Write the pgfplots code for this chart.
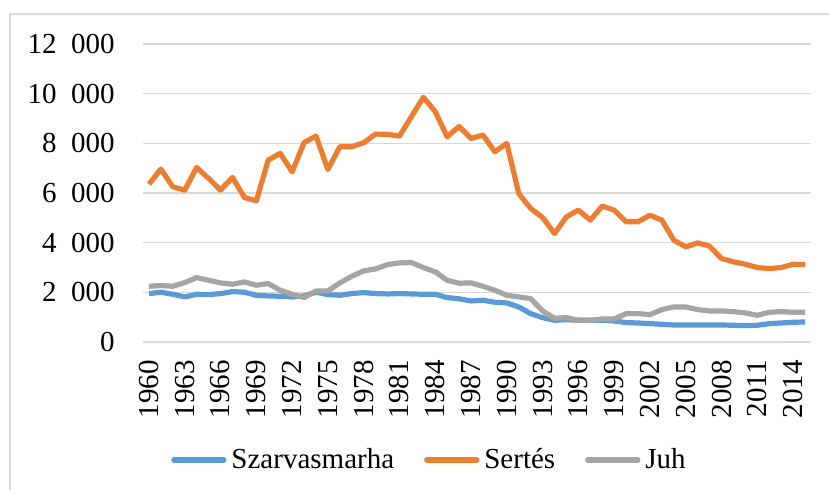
\documentclass[border=0pt]{standalone}
\usepackage{fontspec}
\setmainfont{Liberation Serif}
\usepackage{pgfplots}
\usepackage{pgfplotstable}
\pgfplotsset{compat=1.18}
\definecolor{cblue}{HTML}{5B9BD5}
\definecolor{corange}{HTML}{ED7D31}
\definecolor{cgray}{HTML}{A5A5A5}
\definecolor{gridgray}{HTML}{D9D9D9}
\pgfplotstableread{
year blue orange gray
1960 1949 6357 2244
1961 2003 6962 2271
1962 1922 6250 2244
1963 1814 6115 2392
1964 1922 7029 2594
1965 1908 6586 2486
1966 1949 6115 2379
1967 2029 6626 2325
1968 2003 5820 2419
1969 1882 5685 2285
1970 1855 7325 2352
1971 1841 7594 2083
1972 1814 6854 1922
1973 1855 8024 1788
1974 2003 8292 2056
1975 1908 6948 2056
1976 1882 7862 2379
1977 1949 7862 2648
1978 1989 8024 2863
1979 1949 8373 2943
1980 1935 8360 3118
1981 1949 8292 3185
1982 1935 9072 3199
1983 1922 9852 2997
1984 1922 9274 2822
1985 1788 8265 2486
1986 1740 8680 2365
1987 1653 8198 2379
1988 1680 8333 2244
1989 1599 7661 2083
1990 1572 7997 1882
1991 1411 5981 1814
1992 1142 5376 1747
1993 981 5013 1250
1994 874 4368 954
1995 900 5040 981
1996 874 5309 874
1997 874 4906 874
1998 874 5470 927
1999 847 5309 927
2000 780 4838 1142
2001 766 4838 1142
2002 739 5107 1102
2003 712 4906 1304
2004 685 4099 1411
2005 685 3830 1411
2006 685 3992 1304
2007 685 3857 1250
2008 685 3360 1250
2009 672 3226 1223
2010 659 3131 1169
2011 672 2997 1075
2012 739 2957 1196
2013 766 2997 1223
2014 793 3131 1196
2015 806 3118 1196
}\datatable
\begin{document}
\begin{tikzpicture}
\useasboundingbox (0,0) rectangle (414.5pt,245pt);
\draw[color=gridgray, line width=0.75pt] (5pt,0pt) -- (5pt,238pt) -- (414.5pt,238pt);
\begin{axis}[
  at={(71.5pt,74pt)}, anchor=south west,
  scale only axis, width=334pt, height=149pt,
  xmin=1959.5, xmax=2015.5, ymin=0, ymax=12000,
  scaled y ticks=false,
  xtick={1960,1963,...,2014},
  xticklabels={1960,1963,1966,1969,1972,1975,1978,1981,1984,1987,1990,1993,1996,1999,2002,2005,2008,2011,2014},
  ytick={0,2000,4000,6000,8000,10000,12000},
  yticklabels={0,2\hphantom{0}000,4\hphantom{0}000,6\hphantom{0}000,8\hphantom{0}000,10\hphantom{0}000,12\hphantom{0}000},
  ymajorgrids, grid style={gridgray, line width=0.75pt},
  axis line style={draw=none},
  major tick length=0pt,
  tick label style={font=\fontsize{14.5}{17}\selectfont},
  xticklabel style={rotate=90, anchor=east, inner sep=0pt},
  yticklabel style={anchor=east, inner sep=0pt},
  xticklabel shift=9pt, yticklabel shift=14pt,
  clip=false,
  legend columns=-1,
  legend style={draw=none, fill=none, at={(0.4274,-0.396)}, anchor=center,
    font=\fontsize{14.5}{17}\selectfont, inner sep=0pt,
    nodes={inner sep=0pt},
    /tikz/every odd column/.append style={column sep=2.5pt},
    /tikz/every even column/.append style={column sep=15pt}},
  legend image code/.code={\draw[#1, line cap=round] (1.25pt,0pt) -- (26.25pt,0pt);},
  every axis plot/.append style={line width=2.6pt, line join=round, mark=none},
]
\addplot[cblue] table[x=year, y=blue] {\datatable};
\addlegendentry{Szarvasmarha}
\addplot[corange] table[x=year, y=orange] {\datatable};
\addlegendentry{Sertés}
\addplot[cgray] table[x=year, y=gray] {\datatable};
\addlegendentry{Juh}
\end{axis}
\end{tikzpicture}
\end{document}
